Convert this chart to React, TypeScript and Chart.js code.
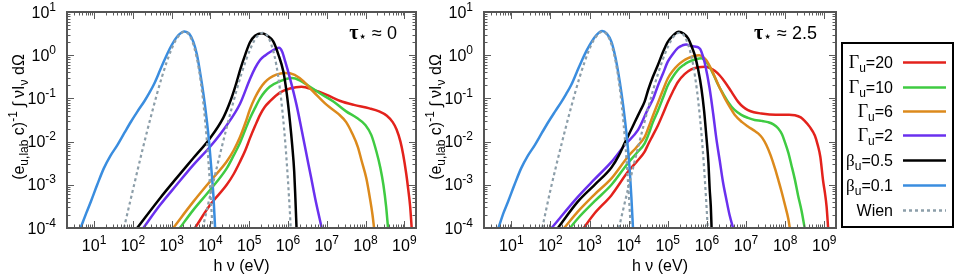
import React, { useEffect, useRef } from 'react';
import { Chart, registerables } from 'chart.js';
Chart.register(...registerables);

// ---- axes ----
const X_MIN = 2;
const X_MAX = 2e9;
const Y_MIN = 1e-4;
const Y_MAX = 10;
const X_TICK_EXP = [1, 2, 3, 4, 5, 6, 7, 8, 9];
const Y_TICK_EXP = [-4, -3, -2, -1, 0, 1];
const PANEL_NOTES = ['0', '2.5'];

// ---- data: [log10(h nu / eV), log10(value)] ----
// left panel (tau* ~ 0)
const L_G20 = [[3.6,-4.0],[3.99,-3.47],[4.42,-3.0],[4.6,-2.75],[4.76,-2.47],[4.9,-2.2],[5.02,-1.92],[5.15,-1.64],[5.28,-1.38],[5.4,-1.2],[5.53,-1.07],[5.8,-0.86],[6.05,-0.77],[6.35,-0.73],[6.65,-0.8],[7.0,-0.92],[7.35,-1.06],[7.7,-1.15],[8.1,-1.23],[8.35,-1.3],[8.55,-1.4],[8.7,-1.55],[8.8,-1.72],[8.9,-2.0],[8.97,-2.3],[9.05,-2.75],[9.1,-3.1],[9.15,-3.5],[9.19,-4.0]];
const L_G10 = [[3.21,-4.0],[3.56,-3.58],[3.99,-3.12],[4.42,-2.62],[4.6,-2.32],[4.76,-2.03],[4.9,-1.72],[5.02,-1.46],[5.15,-1.22],[5.28,-1.0],[5.4,-0.85],[5.53,-0.73],[5.8,-0.6],[6.1,-0.53],[6.3,-0.58],[6.5,-0.69],[6.82,-0.88],[7.17,-1.07],[7.5,-1.3],[7.77,-1.45],[8.0,-1.62],[8.15,-1.85],[8.28,-2.23],[8.38,-2.6],[8.46,-3.0],[8.53,-3.5],[8.58,-4.0]];
const L_G6 = [[3.04,-4.0],[3.56,-3.39],[3.99,-2.92],[4.42,-2.46],[4.6,-2.2],[4.76,-1.9],[4.9,-1.57],[5.02,-1.25],[5.15,-0.98],[5.28,-0.77],[5.4,-0.63],[5.53,-0.53],[5.7,-0.45],[5.9,-0.41],[6.05,-0.42],[6.3,-0.53],[6.65,-0.84],[7.0,-1.15],[7.3,-1.36],[7.5,-1.55],[7.65,-1.8],[7.8,-2.12],[7.9,-2.45],[8.02,-2.85],[8.12,-3.35],[8.18,-3.7],[8.22,-4.0]];
const L_G2 = [[2.27,-4.0],[2.7,-3.47],[3.13,-3.0],[3.56,-2.54],[3.99,-2.12],[4.42,-1.62],[4.76,-1.13],[5.02,-0.55],[5.15,-0.3],[5.28,-0.11],[5.42,0.0],[5.55,0.08],[5.67,0.14],[5.77,0.17],[5.85,0.08],[5.93,-0.15],[6.05,-0.53],[6.22,-1.15],[6.35,-1.72],[6.48,-2.31],[6.6,-2.85],[6.7,-3.31],[6.87,-4.0]];
const L_B05 = [[2.11,-4.0],[2.7,-3.31],[3.13,-2.84],[3.56,-2.38],[3.99,-1.92],[4.33,-1.45],[4.52,-1.05],[4.65,-0.7],[4.78,-0.3],[4.9,0.02],[5.02,0.3],[5.15,0.45],[5.33,0.51],[5.47,0.45],[5.62,0.32],[5.75,0.02],[5.88,-0.38],[5.97,-0.9],[6.05,-1.53],[6.11,-2.1],[6.16,-2.69],[6.19,-3.3],[6.22,-4.0]];
const L_B01 = [[0.65,-4.0],[0.8,-3.65],[0.92,-3.38],[1.08,-3.0],[1.25,-2.62],[1.42,-2.33],[1.6,-2.08],[1.78,-1.8],[1.95,-1.54],[2.12,-1.3],[2.3,-1.06],[2.42,-0.88],[2.55,-0.66],[2.7,-0.35],[2.82,-0.1],[2.95,0.15],[3.05,0.31],[3.18,0.47],[3.33,0.55],[3.45,0.5],[3.56,0.31],[3.65,0.02],[3.73,-0.38],[3.82,-0.9],[3.9,-1.46],[3.97,-2.05],[4.03,-2.7],[4.08,-3.3],[4.12,-4.0]];
const L_WIEN_LO = [[1.77,-4.0],[2.0,-3.12],[2.25,-2.18],[2.5,-1.3],[2.75,-0.5],[3.0,0.15],[3.15,0.41],[3.33,0.545],[3.5,0.39],[3.65,-0.07],[3.75,-0.61],[3.85,-1.39],[3.95,-2.48],[4.05,-3.95],[4.053,-4.0]];
const L_WIEN_HI = [[3.8,-4.0],[4.05,-3.03],[4.3,-2.1],[4.55,-1.22],[4.8,-0.43],[5.05,0.19],[5.2,0.43],[5.35,0.52],[5.5,0.4],[5.65,-0.01],[5.75,-0.51],[5.85,-1.24],[5.95,-2.26],[6.05,-3.65],[6.07,-4.0]];

// right panel (tau* ~ 2.5)
const R_G20 = [[2.85,-4.0],[3.13,-3.66],[3.56,-3.24],[3.98,-2.7],[4.2,-2.47],[4.41,-2.23],[4.5,-2.06],[4.62,-1.85],[4.75,-1.62],[4.88,-1.35],[5.0,-1.09],[5.13,-0.84],[5.26,-0.62],[5.43,-0.44],[5.6,-0.33],[5.78,-0.28],[5.95,-0.27],[6.08,-0.3],[6.2,-0.36],[6.33,-0.47],[6.46,-0.62],[6.63,-0.85],[6.8,-1.08],[6.93,-1.2],[7.05,-1.27],[7.2,-1.32],[7.39,-1.35],[7.6,-1.37],[7.91,-1.38],[8.1,-1.38],[8.25,-1.39],[8.4,-1.44],[8.5,-1.52],[8.63,-1.66],[8.76,-1.86],[8.84,-2.1],[8.9,-2.35],[8.97,-2.9],[9.02,-3.2],[9.06,-3.5],[9.1,-4.0]];
const R_G10 = [[2.5,-4.0],[2.7,-3.78],[3.13,-3.38],[3.56,-3.0],[3.98,-2.5],[4.2,-2.27],[4.41,-2.04],[4.5,-1.85],[4.62,-1.55],[4.75,-1.28],[4.88,-0.98],[5.0,-0.7],[5.13,-0.5],[5.26,-0.34],[5.4,-0.23],[5.52,-0.16],[5.7,-0.1],[5.86,-0.07],[5.97,-0.14],[6.07,-0.27],[6.18,-0.47],[6.29,-0.69],[6.42,-0.9],[6.54,-1.08],[6.7,-1.26],[6.88,-1.38],[7.05,-1.45],[7.22,-1.5],[7.4,-1.52],[7.56,-1.55],[7.7,-1.6],[7.82,-1.69],[7.92,-1.83],[7.99,-2.0],[8.08,-2.25],[8.16,-2.54],[8.25,-2.88],[8.33,-3.24],[8.42,-3.6],[8.5,-4.0]];
const R_G6 = [[2.35,-4.0],[2.7,-3.62],[3.13,-3.22],[3.56,-2.85],[3.98,-2.35],[4.2,-2.13],[4.41,-1.89],[4.5,-1.69],[4.62,-1.4],[4.75,-1.1],[4.88,-0.8],[5.0,-0.54],[5.13,-0.36],[5.26,-0.23],[5.4,-0.13],[5.52,-0.07],[5.67,-0.02],[5.8,0.0],[5.9,-0.04],[5.99,-0.12],[6.1,-0.3],[6.2,-0.5],[6.33,-0.76],[6.46,-1.0],[6.6,-1.22],[6.71,-1.38],[6.9,-1.55],[7.05,-1.65],[7.2,-1.74],[7.31,-1.81],[7.42,-1.92],[7.52,-2.08],[7.63,-2.32],[7.74,-2.62],[7.83,-2.9],[7.91,-3.16],[8.0,-3.48],[8.08,-3.78],[8.12,-4.0]];
const R_G2 = [[2.03,-4.0],[2.7,-3.28],[3.13,-2.87],[3.56,-2.47],[3.9,-2.08],[4.24,-1.73],[4.5,-1.23],[4.62,-1.02],[4.75,-0.7],[4.88,-0.42],[5.0,-0.15],[5.13,0.03],[5.26,0.17],[5.38,0.23],[5.47,0.25],[5.58,0.22],[5.69,0.2],[5.78,0.18],[5.83,0.14],[5.89,0.0],[5.95,-0.2],[6.07,-0.77],[6.16,-1.35],[6.24,-1.92],[6.33,-2.45],[6.41,-2.93],[6.5,-3.35],[6.58,-3.7],[6.67,-4.0]];
const R_B05 = [[2.19,-4.0],[2.7,-3.39],[3.13,-3.0],[3.56,-2.6],[3.75,-2.32],[3.9,-2.03],[4.05,-1.75],[4.16,-1.54],[4.3,-1.28],[4.41,-1.07],[4.5,-0.8],[4.62,-0.5],[4.75,-0.22],[4.88,0.08],[5.0,0.31],[5.14,0.46],[5.28,0.54],[5.4,0.5],[5.52,0.39],[5.62,0.18],[5.69,0.0],[5.78,-0.35],[5.86,-0.77],[5.93,-1.3],[5.99,-1.92],[6.04,-2.5],[6.07,-3.08],[6.1,-3.5],[6.12,-4.0]];
const R_B01 = [[0.67,-4.0],[0.8,-3.65],[0.92,-3.38],[1.08,-3.0],[1.25,-2.62],[1.42,-2.33],[1.6,-2.08],[1.78,-1.8],[1.95,-1.54],[2.12,-1.3],[2.28,-1.08],[2.4,-0.9],[2.53,-0.69],[2.67,-0.4],[2.79,-0.15],[2.92,0.1],[3.05,0.31],[3.18,0.47],[3.32,0.56],[3.44,0.5],[3.56,0.31],[3.65,0.0],[3.73,-0.38],[3.82,-0.9],[3.9,-1.46],[3.97,-2.05],[4.03,-2.7],[4.07,-3.3],[4.11,-4.0]];
const R_WIEN_LO = [[1.79,-4.0],[2.0,-3.12],[2.25,-2.18],[2.5,-1.3],[2.75,-0.5],[3.0,0.15],[3.15,0.41],[3.33,0.545],[3.5,0.39],[3.65,-0.07],[3.75,-0.61],[3.85,-1.39],[3.95,-2.48],[4.05,-3.95],[4.053,-4.0]];
const R_WIEN_HI = [[3.75,-4.0],[4.0,-3.03],[4.25,-2.1],[4.5,-1.22],[4.75,-0.43],[5.0,0.19],[5.15,0.43],[5.3,0.52],[5.45,0.4],[5.6,-0.01],[5.7,-0.51],[5.8,-1.24],[5.9,-2.26],[6.0,-3.65],[6.02,-4.0]];

// ---- series styling ----
const SERIES_NAMES = ['Γu=20', 'Γu=10', 'Γu=6', 'Γu=2', 'βu=0.5', 'βu=0.1', 'Wien'];
const COLORS = ['#e3221c', '#3fcb42', '#dc8a1c', '#6a30ef', '#000000', '#3a8ddf', '#8c9ea9'];
const LEFT_SETS = [L_G20, L_G10, L_G6, L_G2, L_B05, L_B01];
const RIGHT_SETS = [R_G20, R_G10, R_G6, R_G2, R_B05, R_B01];
const LEFT_WIEN = [L_WIEN_LO, L_WIEN_HI];
const RIGHT_WIEN = [R_WIEN_LO, R_WIEN_HI];

const SANS = '"Liberation Sans", Arial, Helvetica, sans-serif';
const SERIF = '"Liberation Serif", "Times New Roman", serif';
const F = (size: number, family = SANS, weight = '') => `${weight} ${size}px ${family}`.trim();

type Seg = { t: string; f: string; dy?: number };

function drawRich(ctx: CanvasRenderingContext2D, segs: Seg[], x: number, y: number, align: 'left' | 'center' | 'right') {
  ctx.textAlign = 'left';
  ctx.textBaseline = 'alphabetic';
  const widths = segs.map((s) => { ctx.font = s.f; return ctx.measureText(s.t).width; });
  const total = widths.reduce((a, b) => a + b, 0);
  let cx = align === 'center' ? x - total / 2 : align === 'right' ? x - total : x;
  segs.forEach((s, i) => {
    ctx.font = s.f;
    ctx.fillText(s.t, cx, y + (s.dy || 0));
    cx += widths[i];
  });
}

const toPts = (arr: number[][]) => arr.map(([lx, ly]) => ({ x: Math.pow(10, lx), y: Math.pow(10, ly) }));

function legendSegs(i: number): Seg[] {
  const name = SERIES_NAMES[i];
  if (name === 'Wien') return [{ t: 'Wien', f: F(16) }];
  const sym = name[0];
  const rest = name.slice(2);
  return [
    { t: sym, f: F(sym === 'Γ' ? 18 : 17, SERIF) },
    { t: 'u', f: F(12), dy: 4 },
    { t: rest, f: F(16) },
  ];
}

function makePlugin(panel: number) {
  return {
    id: 'decor' + panel,
    afterDraw(chart: any) {
      const ctx: CanvasRenderingContext2D = chart.ctx;
      const a = chart.chartArea;
      const xs = chart.scales.x;
      const ys = chart.scales.y;
      ctx.save();
      // ticks
      ctx.strokeStyle = '#5c5c5c';
      ctx.lineWidth = 1;
      const tickX = (v: number, len: number) => {
        const p = Math.round(xs.getPixelForValue(v)) + 0.5;
        ctx.beginPath();
        ctx.moveTo(p, a.bottom); ctx.lineTo(p, a.bottom - len);
        ctx.moveTo(p, a.top); ctx.lineTo(p, a.top + len);
        ctx.stroke();
      };
      const tickY = (v: number, len: number) => {
        const p = Math.round(ys.getPixelForValue(v)) + 0.5;
        ctx.beginPath();
        ctx.moveTo(a.left, p); ctx.lineTo(a.left + len, p);
        ctx.moveTo(a.right, p); ctx.lineTo(a.right - len, p);
        ctx.stroke();
      };
      for (let e = 0; e <= 9; e++) {
        for (let m = 2; m <= 9; m++) {
          const v = m * Math.pow(10, e);
          if (v > X_MIN && v < X_MAX) tickX(v, 3.5);
        }
      }
      for (let e = -4; e <= 0; e++) {
        for (let m = 2; m <= 9; m++) {
          const v = m * Math.pow(10, e);
          if (v > Y_MIN && v < Y_MAX) tickY(v, 3.5);
        }
      }
      X_TICK_EXP.forEach((e) => tickX(Math.pow(10, e), 7));
      Y_TICK_EXP.forEach((e) => tickY(Math.pow(10, e), 7));
      // frame
      ctx.strokeStyle = '#555555';
      ctx.lineWidth = 2;
      ctx.strokeRect(a.left, a.top, a.right - a.left, a.bottom - a.top);

      // tick labels
      ctx.fillStyle = '#000';
      X_TICK_EXP.forEach((e) => {
        const p = xs.getPixelForValue(Math.pow(10, e));
        drawRich(ctx, [{ t: '10', f: F(16) }, { t: String(e), f: F(12), dy: -7 }], p, 251, 'center');
      });
      Y_TICK_EXP.forEach((e) => {
        const p = ys.getPixelForValue(Math.pow(10, e));
        drawRich(ctx, [{ t: '10', f: F(16) }, { t: String(e), f: F(12), dy: -7 }], a.left - 11, p + 5.5, 'right');
      });

      // x title
      drawRich(ctx, [{ t: 'h ν (eV)', f: F(16) }], (a.left + a.right) / 2, 271, 'center');

      // y title
      ctx.save();
      ctx.translate(a.left - 43, (a.top + a.bottom) / 2 - 3);
      ctx.rotate(-Math.PI / 2);
      drawRich(ctx, [
        { t: '(e', f: F(16) },
        { t: 'u,lab', f: F(12), dy: 4 },
        { t: ' c)', f: F(16) },
        { t: '-1', f: F(12), dy: -7 },
        { t: ' ∫ ', f: F(16) },
        { t: 'νI', f: F(16) },
        { t: 'ν', f: F(12), dy: 4 },
        { t: ' dΩ', f: F(16) },
      ], 0, 0, 'center');
      ctx.restore();

      // tau annotation
      drawRich(ctx, [
        { t: 'τ', f: F(20, SERIF, 'bold') },
        { t: '⋆', f: F(14, '"DejaVu Sans", sans-serif'), dy: 2 },
        { t: ' ≈ ', f: F(18) },
        { t: PANEL_NOTES[panel], f: F(18) },
      ], a.right - 19, 39, 'right');

      // legend (right panel only)
      if (panel === 1) {
        const bx = a.right + 5;
        const bw = chart.width - bx - 1;
        ctx.strokeStyle = '#000';
        ctx.lineWidth = 2;
        ctx.strokeRect(bx + 1, 43, bw - 1, 184);
        const rowY = [62, 87, 111, 135, 160, 185, 210];
        SERIES_NAMES.forEach((_, i) => {
          const y = rowY[i];
          ctx.fillStyle = '#000';
          drawRich(ctx, legendSegs(i), bx + 52, y + 5.5, 'right');
          ctx.strokeStyle = COLORS[i];
          ctx.lineWidth = 2.5;
          ctx.setLineDash(i === 6 ? [3, 3] : []);
          ctx.beginPath();
          ctx.moveTo(bx + 62, y + 0.5);
          ctx.lineTo(bx + 105, y + 0.5);
          ctx.stroke();
          ctx.setLineDash([]);
        });
      }
      ctx.restore();
    },
  };
}

function buildDatasets(sets: number[][][], wien: number[][][]) {
  const ds: any[] = [];
  wien.forEach((w) => ds.push({
    data: toPts(w), borderColor: COLORS[6], borderWidth: 2.2, borderDash: [3, 3],
    pointRadius: 0, fill: false, cubicInterpolationMode: 'monotone',
  }));
  for (let i = sets.length - 1; i >= 0; i--) {
    ds.push({
      data: toPts(sets[i]), borderColor: COLORS[i], borderWidth: 2.5,
      pointRadius: 0, fill: false, cubicInterpolationMode: 'monotone',
    });
  }
  return ds;
}

function Panel({ panel, left, width, padLeft, padRight }: { panel: number; left: number; width: number; padLeft: number; padRight: number }) {
  const ref = useRef<HTMLCanvasElement>(null);
  useEffect(() => {
    if (!ref.current) return;
    const sets = panel === 0 ? LEFT_SETS : RIGHT_SETS;
    const wien = panel === 0 ? LEFT_WIEN : RIGHT_WIEN;
    const chart = new Chart(ref.current, {
      type: 'line',
      data: { datasets: buildDatasets(sets, wien) },
      options: {
        responsive: false,
        animation: false,
        events: [],
        devicePixelRatio: 1,
        layout: { padding: { left: padLeft, right: padRight, top: 12, bottom: 50 } },
        plugins: { legend: { display: false }, tooltip: { enabled: false }, title: { display: false } },
        scales: {
          x: { type: 'logarithmic', min: X_MIN, max: X_MAX, display: false },
          y: { type: 'logarithmic', min: Y_MIN, max: Y_MAX, display: false },
        },
      } as any,
      plugins: [makePlugin(panel)],
    });
    return () => chart.destroy();
  }, [panel, padLeft, padRight]);
  return (
    <canvas ref={ref} width={width} height={278} style={{ position: 'absolute', left, top: 0, width, height: 278 }} />
  );
}

export default function App() {
  return (
    <div style={{ position: 'absolute', left: 0, top: 0, width: 954, height: 278, background: '#fff', overflow: 'hidden' }}>
      <Panel panel={0} left={0} width={420} padLeft={67} padRight={4} />
      <Panel panel={1} left={420} width={534} padLeft={64} padRight={118} />
    </div>
  );
}
